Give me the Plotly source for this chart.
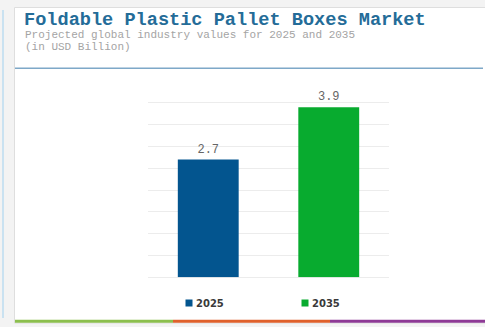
import plotly.graph_objects as go

# Market values (USD billion)
years = ["2025", "2035"]
values = [2.7, 3.9]
bar_colors = ["#03558f", "#08ab2f"]

title_text = "Foldable Plastic Pallet Boxes Market"
subtitle_lines = ["Projected global industry values for 2025 and 2035", "(in USD Billion)"]

W, H = 485, 327


def px_x(x):
    return x / W


def px_y(y):
    return 1 - y / H


fig = go.Figure()
fig.add_trace(go.Bar(
    x=years,
    y=values,
    marker=dict(color=bar_colors, line=dict(width=0)),
    text=[f"{v:.1f}" for v in values],
    textposition="outside",
    textfont=dict(family="Liberation Mono, Courier New, monospace", size=12, color="#666666"),
    cliponaxis=False,
    showlegend=False,
    hoverinfo="x+y",
))

shapes = []
# card frame
shapes.append(dict(type="rect", xref="paper", yref="paper",
                   x0=px_x(14.5), x1=px_x(486), y0=px_y(323), y1=px_y(7.5),
                   fillcolor="#ffffff", line=dict(color="#dedede", width=1), layer="below"))
# thin accent line along the left edge
shapes.append(dict(type="line", xref="paper", yref="paper",
                   x0=px_x(3), x1=px_x(3), y0=px_y(318), y1=px_y(10),
                   line=dict(color="#bcdcf0", width=1.5), layer="below"))
# rule under the heading
shapes.append(dict(type="line", xref="paper", yref="paper",
                   x0=px_x(15), x1=px_x(483), y0=px_y(68.3), y1=px_y(68.3),
                   line=dict(color="#7ea8c8", width=1.6)))
# tri-colour footer strip
for x0, x1, c in [(15, 173, "#8cbf4e"), (173, 330, "#e0612c"), (330, 485, "#8e3b96")]:
    shapes.append(dict(type="rect", xref="paper", yref="paper",
                       x0=px_x(x0), x1=px_x(x1), y0=px_y(322.8), y1=px_y(319.8),
                       fillcolor=c, line=dict(width=0)))

annotations = [
    dict(text=f"<b>{title_text}</b>", xref="paper", yref="paper",
         x=px_x(22), y=px_y(20.5), xanchor="left", yanchor="middle", showarrow=False,
         font=dict(family="Liberation Mono, Courier New, monospace", size=18.6, color="#246c98")),
    dict(text=subtitle_lines[0], xref="paper", yref="paper",
         x=px_x(22.5), y=px_y(34.5), xanchor="left", yanchor="middle", showarrow=False,
         font=dict(family="Liberation Mono, Courier New, monospace", size=11, color="#a4a4a4")),
    dict(text=subtitle_lines[1], xref="paper", yref="paper",
         x=px_x(22.5), y=px_y(46.5), xanchor="left", yanchor="middle", showarrow=False,
         font=dict(family="Liberation Mono, Courier New, monospace", size=11, color="#a4a4a4")),
]

# legend: small swatch followed by the year label
legend_x = [189, 305]
for name, color, lx in zip(years, bar_colors, legend_x):
    shapes.append(dict(type="rect", xref="paper", yref="paper",
                       x0=px_x(lx - 3.5), x1=px_x(lx + 3.5), y0=px_y(306.5), y1=px_y(299.5),
                       fillcolor=color, line=dict(width=0)))
    annotations.append(dict(text=f"<b>{name}</b>", xref="paper", yref="paper",
                            x=px_x(lx + 5), y=px_y(303.5), xanchor="left", yanchor="middle",
                            showarrow=False,
                            font=dict(family="DejaVu Sans, Verdana, sans-serif", size=10, color="#3a3a3a")))

# y scale: 0..4.52 mapped onto pixel rows 277.3..80.2 (≈43.6 px per unit)
fig.update_layout(
    width=W, height=H,
    margin=dict(l=0, r=0, t=0, b=0),
    paper_bgcolor="#f3f3f3",
    plot_bgcolor="rgba(0,0,0,0)",
    bargap=0.495,
    shapes=shapes,
    annotations=annotations,
    xaxis=dict(domain=[px_x(148), px_x(389)], showgrid=False, showticklabels=False,
               zeroline=False, showline=False, ticks=""),
    yaxis=dict(domain=[px_y(277.3), px_y(80.2)], range=[0, 4.52], tick0=0, dtick=0.5,
               showgrid=True, gridcolor="#ececec", gridwidth=1,
               zeroline=True, zerolinecolor="#ececec", zerolinewidth=1,
               showticklabels=False, showline=False, ticks=""),
)

fig.write_html("out.html")
